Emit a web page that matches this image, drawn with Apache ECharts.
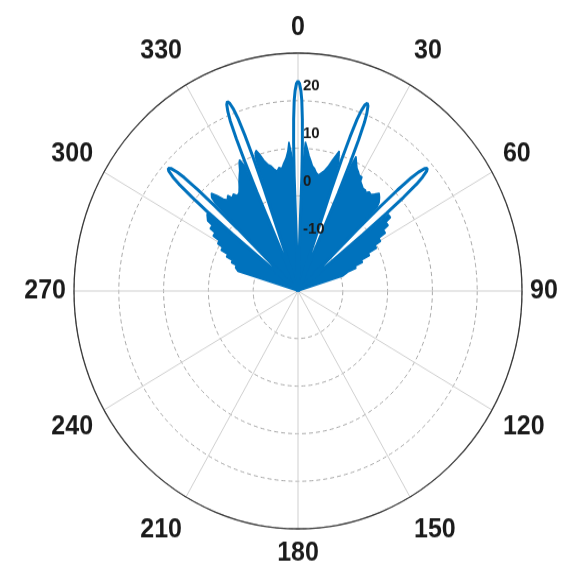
<!DOCTYPE html>
<html>
<head>
<meta charset="utf-8">
<script src="https://cdn.jsdelivr.net/npm/echarts@6/dist/echarts.min.js"></script>
<style>
html, body { margin: 0; padding: 0; background: #fff; overflow: hidden; height: 583px; }
#outer { width: 567px; height: 583px; }
/* the reference is a bit taller than wide, so stretch the drawing vertically */
#wrap { width: 567px; height: 549px; transform: scaleY(1.0619); transform-origin: 0 0; }
</style>
</head>
<body>
<div id="outer"><div id="wrap"></div></div>
<script>
// main beam + grating lobes (deg, dB)
const lobeCenters = [-48.3, -21.6, 0, 21.4, 48.2];
const lobePeaks = [18.8, 22.8, 24.1, 22.4, 18.7];
const lobeHalfWidths = [2.7, 2.4, 2.2, 2.4, 2.7];
// shape of one lobe: offset as fraction of half width, drop from peak in dB
const lobeShapeFrac = [-1, -0.92, -0.82, -0.7, -0.55, -0.4, -0.2, 0, 0.2, 0.4, 0.55, 0.7, 0.82, 0.92, 1];
const lobeShapeDrop = [-60, -20, -13, -8, -4, -2, -0.5, 0, -0.5, -2, -4, -8, -13, -20, -60];

const fanAngles = [
  -90, -73.2, -72.9, -71, -70.6, -68.6, -68.2, -66.2, -65.8, -63.8, -63.4, -61.4, -61, -59,
  -58.6, -56.6, -56.2, -54.2, -53.8, -51.4, -51.1,
  -45.5, -45.1, -44.5, -43.8, -43.3, -42.5, -42, -41.2, -40.8, -40, -39.5, -38.5, -38, -37.2,
  -36.8, -35.8, -35.3, -34.5, -34, -33, -32.5, -31.5, -31, -30.2, -29.8, -29, -28.5, -27.7,
  -27.2, -26.5, -26, -25.3, -24.7, -24.4, -24.1,
  -19.1, -18.8, -18.3, -17.6, -17, -16.6, -16, -15.5, -14.8, -14.3, -13.5, -13, -12.2, -11.8,
  -11, -10.5, -9.7, -9.3, -8.5, -8, -7.3, -6.8, -6, -5.5, -4.8, -4.4, -4, -3.7, -3, -2.6, -2.3,
  2.3, 2.6, 3, 3.7, 4, 4.6, 5, 5.6, 6, 6.7, 7, 7.8, 8.2, 9, 9.3, 10.2, 10.6, 11.5, 12, 12.8,
  13.2, 14, 14.4, 15.2, 15.6, 16.4, 16.8, 17.4, 18.2, 18.6, 19.0,
  23.9, 24.2, 24.6, 25.4, 25.8, 26.6, 27, 27.8, 28.2, 29, 29.4, 30.8, 31.2, 32, 32.5, 33.5,
  34, 35.5, 36, 37, 37.4, 38.4, 38.8, 39.6, 40, 41, 41.4, 42.4, 42.8, 43.8, 44.2, 45, 45.4,
  51, 51.3, 53.2, 53.6, 55.6, 56, 58, 58.4, 60.4, 60.8, 62.8, 63.2, 65, 65.3, 67.3, 67.7,
  69.7, 70.1, 72.6, 73, 90
];
const fanValues = [
  -20, -20, -6, -6, -5.2, -5.2, -4, -4, -2.5, -2.5, -0.8, -0.8, 0.5, 0.5,
  2.2, 2.2, 3.6, 3.6, 5, 6, -20,
  -20, 6, 7.5, 7.5, 8.2, 8.2, 7, 7, 5.5, 5.5, 4.8, 4.8, 5.5, 5.5,
  4.5, 4.5, 5, 5, 4.2, 4.2, 4.5, 4.5, 5.5, 5.5, 6.5, 6.5, 7.5, 7.5,
  8.5, 8.5, 10, 10.5, 10.5, 9, -20,
  -20, 9, 10.5, 11, 11, 10, 10, 8.5, 8.5, 7.5, 7.5, 7, 7, 6.2,
  6.2, 5.6, 5.6, 6.3, 6.3, 6, 6, 7, 7, 8, 8, 9.5, 9.5, 11.4, 11.4, 8, -20,
  -20, 8, 11.4, 11.4, 10, 10, 8.5, 8.5, 7.5, 7.5, 6.5, 6.5, 6, 6, 5.2, 5.2, 4.8, 4.8, 5.4, 5.4,
  6, 6, 7, 7, 8.5, 8.5, 10, 10.8, 10.8, 8.5, -20,
  -20, 9, 11.1, 11.1, 10, 10, 9, 9, 8.5, 8.5, 7.9, 7.9, 7, 7, 6.5, 6.5,
  6, 6, 5.6, 5.6, 6.2, 6.2, 6, 6, 6.6, 6.6, 7.4, 7.4, 6.8, 6.8, 6, 5, -20,
  -20, 5.8, 5.8, 4.4, 4.4, 3, 3, 1.2, 1.2, -0.3, -0.3, -2.4, -2.4, -4.4, -4.4, -6.2,
  -6.2, -8, -9.6, -20, -20
];

const radialLabels = [-10, 0, 10, 20];
const diagLabels = [30, 150, 210, 330];
const sideLabels = [60, 120, 240, 300];

const toAxis = a => (a < 0 ? a + 360 : a);

const lobeData = [];
lobeCenters.forEach((c, i) => {
  lobeShapeFrac.forEach((f, j) => {
    lobeData.push([Math.max(-20, lobePeaks[i] + lobeShapeDrop[j]), toAxis(c + f * lobeHalfWidths[i])]);
  });
});
const fanData = fanAngles.map((a, i) => [fanValues[i], toAxis(a)]);

const blue = '#0072BD';
const labelFont = { fontSize: 25, fontWeight: 'bold', fontFamily: 'Liberation Sans, Arial, sans-serif', color: '#1a1a1a' };

const chart = echarts.init(document.getElementById('wrap'));
chart.setOption({
  animation: false,
  polar: [
    { center: [298, 274], radius: 224 },
    { center: [298, 274], radius: 224 }
  ],
  angleAxis: [
    {
      polarIndex: 0,
      type: 'value',
      min: 0,
      max: 360,
      interval: 30,
      startAngle: 90,
      clockwise: true,
      axisLine: { lineStyle: { color: '#3a3a3a', width: 1.3 } },
      axisTick: { show: false },
      axisLabel: Object.assign({}, labelFont, {
        margin: 8,
        formatter: v => {
          if (v === 360) return '';
          if (diagLabels.includes(v)) return '{d|' + v + '}';
          if (sideLabels.includes(v)) return '{s|' + v + '}';
          return '{a|' + v + '}';
        },
        rich: {
          a: Object.assign({ padding: [3, 0, 3, 0] }, labelFont),
          d: Object.assign({ padding: [12, 0, 12, 0] }, labelFont),
          s: Object.assign({ padding: [0, 4, 0, 4] }, labelFont)
        }
      }),
      splitLine: { lineStyle: { color: '#cfcfcf', width: 1 } }
    },
    { polarIndex: 1, type: 'value', min: 0, max: 360, startAngle: 90, show: false }
  ],
  radiusAxis: [
    {
      polarIndex: 0,
      min: -20,
      max: 30,
      interval: 10,
      axisLine: { show: false },
      axisTick: { show: false },
      axisLabel: { show: false },
      splitLine: { lineStyle: { color: '#a8a8a8', type: [4, 3], width: 1 } }
    },
    {
      polarIndex: 1,
      min: -20,
      max: 30,
      interval: 10,
      z: 10,
      axisLine: { show: false },
      axisTick: { show: false },
      splitLine: { show: false },
      axisLabel: {
        fontSize: 15,
        fontWeight: 'bold',
        fontFamily: 'Liberation Sans, Arial, sans-serif',
        color: '#1a1a1a',
        margin: -5,
        align: 'left',
        verticalAlign: 'bottom',
        padding: [0, 0, 6, 0],
        formatter: v => (radialLabels.includes(v) ? String(v) : '')
      }
    }
  ],
  series: [
    {
      type: 'line',
      coordinateSystem: 'polar',
      polarIndex: 0,
      data: fanData,
      symbol: 'none',
      lineStyle: { color: blue, width: 1.5 },
      areaStyle: { color: blue, opacity: 1, origin: 'start' },
      z: 2
    },
    {
      type: 'line',
      coordinateSystem: 'polar',
      polarIndex: 0,
      data: lobeData,
      symbol: 'none',
      lineStyle: { color: blue, width: 3 },
      z: 3
    }
  ]
});
</script>
</body>
</html>
